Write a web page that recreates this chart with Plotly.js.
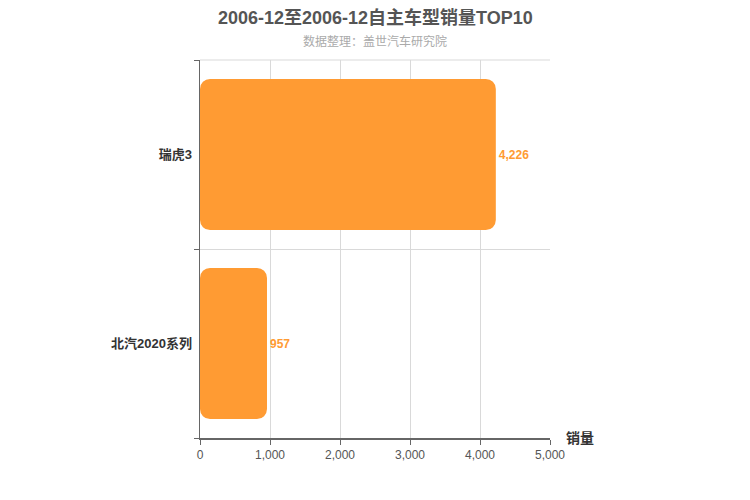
<!DOCTYPE html>
<html>
<head>
<meta charset="utf-8">
<script src="https://cdn.plot.ly/plotly-3.0.1.min.js"></script>
<style>
  html, body { margin: 0; padding: 0; background: #fff; }
  #chart { width: 750px; height: 500px; }
</style>
</head>
<body>
<div id="chart"></div>
<script>
var models = ['北汽2020系列', '瑞虎3'];
var sales = [957, 4226];
var xTicks = [0, 1000, 2000, 3000, 4000, 5000];

var font = 'Arial, "Liberation Sans", "Noto Sans CJK SC", sans-serif';
var barColor = '#ff9b33';

var data = [{
  type: 'bar',
  orientation: 'h',
  y: models,
  base: sales.map(function () { return 0; }),
  x: sales,
  marker: { color: barColor },
  text: sales.map(function (v) { return v.toLocaleString('en-US'); }),
  textposition: 'outside',
  textfont: { color: barColor, size: 12, family: font, weight: 'bold' },
  cliponaxis: false,
  hoverinfo: 'none'
}];

var layout = {
  width: 750,
  height: 500,
  margin: { l: 200, r: 200, t: 60, b: 62 },
  paper_bgcolor: '#fff',
  plot_bgcolor: '#fff',
  font: { family: font },
  showlegend: false,
  bargap: 0.2,
  barcornerradius: 10,
  xaxis: {
    range: [0, 5000],
    tickvals: xTicks,
    tickformat: ',d',
    showgrid: true,
    gridcolor: '#d9d9d9',
    zeroline: false,
    showline: true,
    linecolor: '#666',
    linewidth: 1.5,
    ticks: 'outside',
    ticklen: 5,
    tickcolor: '#666',
    tickfont: { size: 12, color: '#555', family: font }
  },
  yaxis: {
    type: 'category',
    tickson: 'boundaries',
    showgrid: true,
    gridcolor: '#d9d9d9',
    zeroline: false,
    showline: true,
    linecolor: '#666',
    linewidth: 1.5,
    ticks: 'outside',
    ticklen: 5,
    tickcolor: '#666',
    ticklabelstandoff: 4,
    tickfont: { size: 13, color: '#333', family: font, weight: 'bold' }
  },
  shapes: [{
    type: 'line', xref: 'paper', yref: 'paper',
    x0: 0, x1: 1, y0: 1, y1: 1,
    line: { color: '#d9d9d9', width: 1 },
    layer: 'below'
  }],
  annotations: [
    {
      text: '2006-12至2006-12自主车型销量TOP10',
      xref: 'paper', yref: 'paper', x: 0.5, y: 1, yshift: 43,
      xanchor: 'center', yanchor: 'middle', showarrow: false,
      font: { size: 18, color: '#555', family: font, weight: 'bold' }
    },
    {
      text: '数据整理：盖世汽车研究院',
      xref: 'paper', yref: 'paper', x: 0.5, y: 1, yshift: 19,
      xanchor: 'center', yanchor: 'middle', showarrow: false,
      font: { size: 12, color: '#aaa', family: font }
    },
    {
      text: '销量',
      xref: 'paper', yref: 'paper', x: 1, y: 0, xshift: 14, yshift: 0,
      xanchor: 'left', yanchor: 'middle', showarrow: false,
      font: { size: 14, color: '#333', family: font, weight: 'bold' }
    }
  ]
};

Plotly.newPlot('chart', data, layout, { displayModeBar: false, staticPlot: true });
</script>
</body>
</html>
